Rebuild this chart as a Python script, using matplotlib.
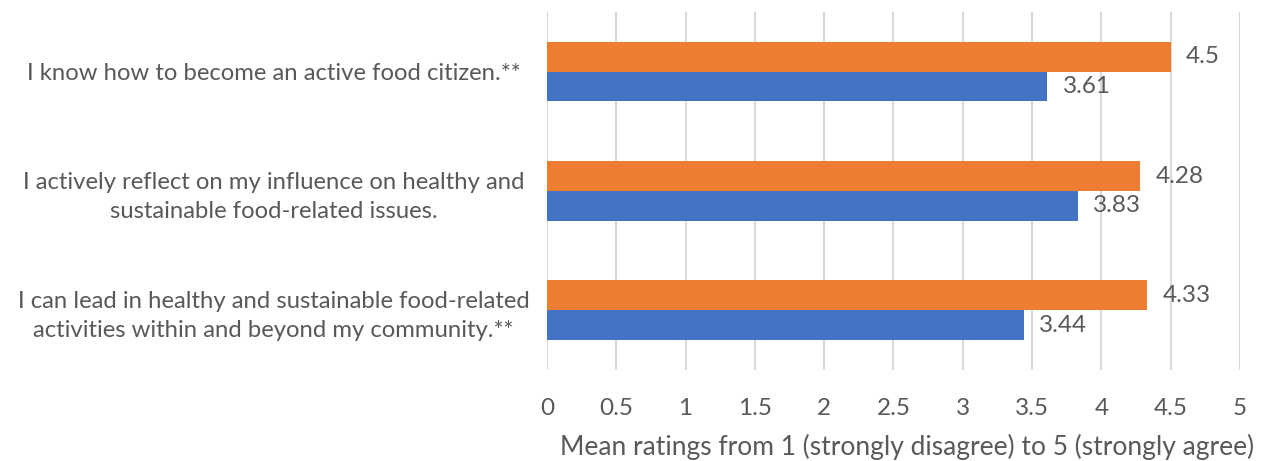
#!/usr/bin/env python3

import numpy as np
import matplotlib.pyplot as plt


CATEGORIES = [
    "I know how to become an active food citizen.**",
    "I actively reflect on my influence on healthy and\nsustainable food-related issues.",
    "I can lead in healthy and sustainable food-related\nactivities within and beyond my community.**",
]
ORANGE_VALUES = [4.5, 4.28, 4.33]
BLUE_VALUES = [3.61, 3.83, 3.44]
XTICKS = [0, 0.5, 1, 1.5, 2, 2.5, 3, 3.5, 4, 4.5, 5]
XLABEL = "Mean ratings from 1 (strongly disagree) to 5 (strongly agree)"

ORANGE = "#ED7D31"
BLUE = "#4472C4"
TEXT = "#595959"
GRID = "#D9D9D9"


def main():
    plt.rcParams["font.family"] = ["Lato", "DejaVu Sans"]

    fig = plt.figure(figsize=(12.65, 4.61), dpi=100)
    ax = fig.add_axes([547 / 1265, 1 - 370 / 461, (1240 - 547) / 1265, (370 - 12) / 461])

    y = np.arange(len(CATEGORIES))
    h = 0.25

    ax.barh(y - h / 2, ORANGE_VALUES, height=h, color=ORANGE, zorder=3)
    ax.barh(y + h / 2, BLUE_VALUES, height=h, color=BLUE, zorder=3)

    for yi, v in zip(y, ORANGE_VALUES):
        ax.annotate(f"{v:g}", (v, yi - h / 2), xytext=(11, 0), textcoords="offset points",
                    va="center", ha="left", fontsize=17.5, color=TEXT)
    for yi, v in zip(y, BLUE_VALUES):
        ax.annotate(f"{v:g}", (v, yi + h / 2), xytext=(11, 0), textcoords="offset points",
                    va="center", ha="left", fontsize=17.5, color=TEXT)

    ax.set_xlim(0, 5)
    ax.set_ylim(len(CATEGORIES) - 0.5, -0.5)
    ax.set_xticks(XTICKS)
    ax.set_xticklabels([f"{t:g}" for t in XTICKS])
    ax.set_yticks(y)
    ax.set_yticklabels(CATEGORIES, ha="center", multialignment="center", linespacing=1.45)
    ax.tick_params(axis="y", length=0, pad=197, labelsize=17.2, labelcolor=TEXT)
    ax.tick_params(axis="x", length=0, pad=20, labelsize=17.5, labelcolor=TEXT)

    ax.grid(True, axis="x", color=GRID, linewidth=1.5, zorder=0)
    for spine in ax.spines.values():
        spine.set_visible(False)

    ax.set_xlabel(XLABEL, fontsize=19, color=TEXT, labelpad=11)
    ax.xaxis.label.set_x(0.519)

    fig.savefig("out.png", dpi=100)
    plt.close(fig)


if __name__ == "__main__":
    main()
